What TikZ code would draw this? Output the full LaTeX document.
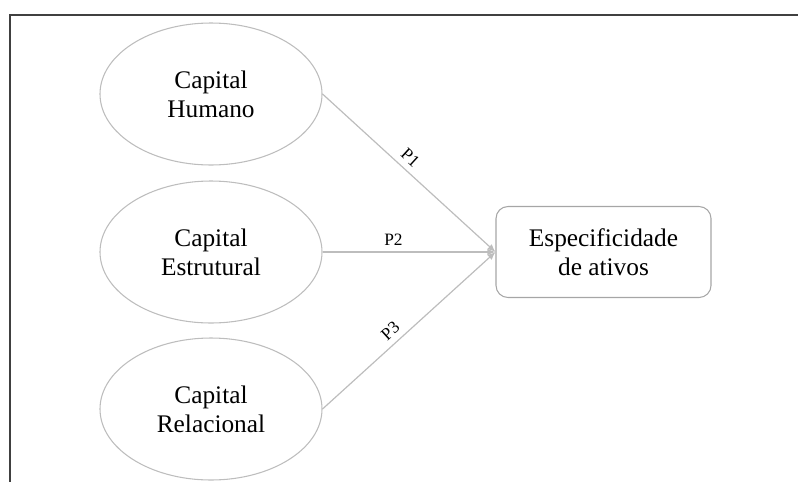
\documentclass[tikz,border=0pt]{standalone}
\usepackage{fontspec}
\setmainfont{Liberation Serif}
\usepackage{xcolor}
\usetikzlibrary{shapes.geometric,arrows.meta}

\definecolor{framegray}{HTML}{404040}
\definecolor{edgegray}{HTML}{BDBDBD}
\definecolor{boxgray}{HTML}{A6A6A6}

\begin{document}
\begin{tikzpicture}[
  x=0.75pt, y=-0.75pt,
  capital/.style={draw=edgegray, ellipse, line width=0.8pt, minimum width=166.5pt, minimum height=106.5pt, inner sep=0pt, align=center, font=\fontsize{19}{21.75}\selectfont},
  target/.style={draw=boxgray, rounded corners=9pt, line width=0.8pt, minimum width=161.25pt, minimum height=68.25pt, align=center, font=\fontsize{19}{21.75}\selectfont},
  path/.style={draw=edgegray, line width=0.9pt, -{Latex[length=6pt,width=5pt]}},
  plabel/.style={font=\fontsize{13}{15}\selectfont, sloped, above=3.5pt, inner sep=1pt}
]
\useasboundingbox (0,0) rectangle (798,482);

% frame
\draw[framegray, line width=1.1pt] (798,15) -- (10,15) -- (10,482);

\node[capital] (humano) at (211,94) {Capital\\Humano};
\node[capital] (estrutural) at (211,252) {Capital\\Estrutural};
\node[capital] (relacional) at (211,409) {Capital\\Relacional};

\node[target] (ativos) at (603.5,252) {Especificidade\\de ativos};

\draw[path] (humano.east) -- node[plabel, pos=0.46] {P1} (ativos.west);
\draw[path] (estrutural.east) -- node[plabel, pos=0.41] {P2} (ativos.west);
\draw[path] (relacional.east) -- node[plabel, pos=0.44] {P3} (ativos.west);

\end{tikzpicture}
\end{document}
